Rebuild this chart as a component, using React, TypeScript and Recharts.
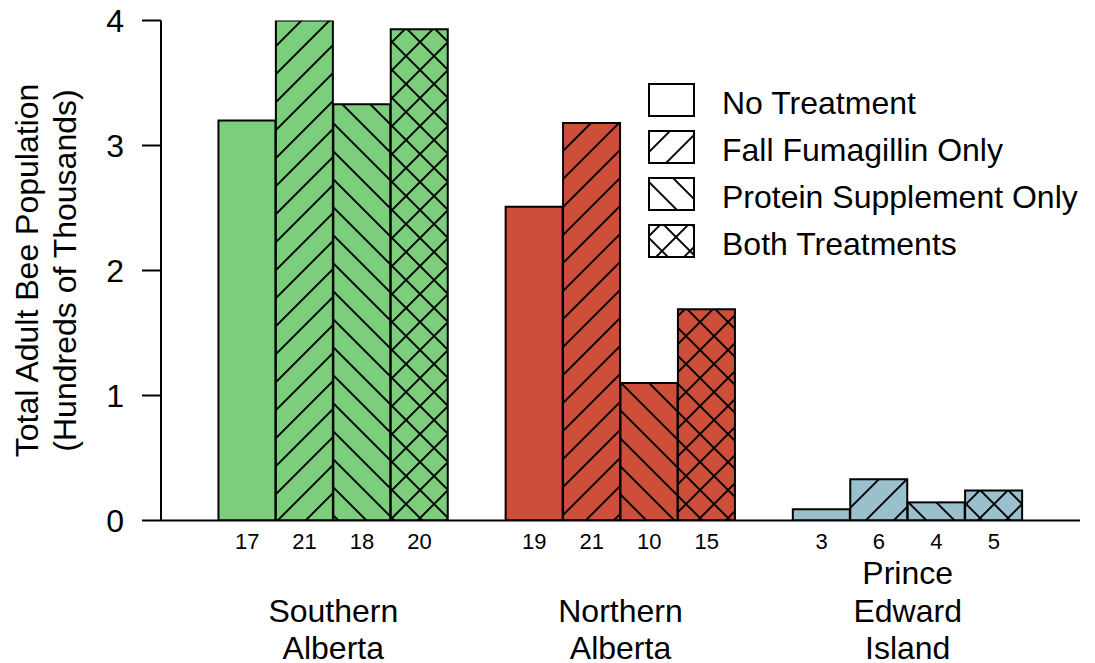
import React from 'react';
import { BarChart, Bar, XAxis, YAxis, Legend } from 'recharts';

const FONT = '"Liberation Sans", Arial, Helvetica, sans-serif';

const regions = ['Southern\nAlberta', 'Northern\nAlberta', 'Prince\nEdward\nIsland'];
const treatments = ['No Treatment', 'Fall Fumagillin Only', 'Protein Supplement Only', 'Both Treatments'];
const southernAlberta = [3.2, 4.0, 3.33, 3.93];
const northernAlberta = [2.51, 3.18, 1.1, 1.69];
const princeEdwardIsland = [0.09, 0.33, 0.145, 0.24];
const southernCounts = [17, 21, 18, 20];
const northernCounts = [19, 21, 10, 15];
const peiCounts = [3, 6, 4, 5];
const yTicks = [0, 1, 2, 3, 4];
const regionColors = ['#7CCD7C', '#CD4F39', '#9AC0CD'];
const hatchTypes = ['none', 'fwd', 'back', 'cross'];

const regionValues = [southernAlberta, northernAlberta, princeEdwardIsland];
const regionCounts = [southernCounts, northernCounts, peiCounts];

type Row = { slot: string; pos: number; value: number | null; count: number | null; region: number; treatment: number };
const data: Row[] = [];
{
  let pos = 0;
  data.push({ slot: 's' + pos, pos, value: null, count: null, region: -1, treatment: -1 });
  pos++;
  regions.forEach((_, ri) => {
    treatments.forEach((__, ti) => {
      data.push({ slot: 's' + pos, pos, value: regionValues[ri][ti], count: regionCounts[ri][ti], region: ri, treatment: ti });
      pos++;
    });
    data.push({ slot: 's' + pos, pos, value: null, count: null, region: -1, treatment: -1 });
    pos++;
  });
}
const regionCenters = regions.map((_, ri) => {
  const rows = data.filter((d) => d.region === ri);
  return rows.reduce((s, d) => s + d.pos, 0) / rows.length;
});
const posDomain: [number, number] = [-0.5, data.length - 0.5];

const S = 19.8; // hatch spacing (perpendicular)

const Patterns = () => (
  <defs>
    {hatchTypes.map((t) =>
      t === 'none' ? null : (
        <pattern
          key={t}
          id={'hatch-' + t}
          patternUnits="userSpaceOnUse"
          width={S}
          height={S}
          patternTransform={t === 'back' ? 'rotate(-45)' : 'rotate(45)'}
        >
          <line x1={S / 2} y1={-1} x2={S / 2} y2={S + 1} stroke="#000" strokeWidth={2} />
          {t === 'cross' && <line x1={-1} y1={S / 2} x2={S + 1} y2={S / 2} stroke="#000" strokeWidth={2} />}
        </pattern>
      )
    )}
  </defs>
);

const HatchRect = ({ x, y, width, height, color, type }: any) => (
  <g>
    <rect x={x} y={y} width={width} height={height} fill={color} />
    {type !== 'none' && <rect x={x} y={y} width={width} height={height} fill={'url(#hatch-' + type + ')'} />}
    <rect x={x} y={y} width={width} height={height} fill="none" stroke="#000" strokeWidth={2} />
  </g>
);

const BarShape = (props: any) => {
  const { x, y, width, height, payload } = props;
  if (!payload || payload.value == null || payload.region < 0) return <g />;
  return (
    <HatchRect
      x={x}
      y={y}
      width={width}
      height={height}
      color={regionColors[payload.region]}
      type={hatchTypes[payload.treatment]}
    />
  );
};

const CountTick = (props: any) => {
  const { x, y, payload } = props;
  const row = data.find((d) => d.slot === payload.value);
  if (!row || row.count == null) return <g />;
  return (
    <text x={x} y={y + 28.5} textAnchor="middle" fontSize={22} fontFamily={FONT} fill="#000">
      {row.count}
    </text>
  );
};

const RegionTick = (props: any) => {
  const { x, y, payload } = props;
  const idx = regionCenters.findIndex((c) => Math.abs(c - payload.value) < 1e-6);
  if (idx < 0) return <g />;
  const lines = regions[idx].split('\n');
  const n = lines.length;
  return (
    <g>
      {lines.map((ln, i) => (
        <text
          key={i}
          x={x}
          y={y + 98.5 - (n - 1 - i) * 37.5}
          textAnchor="middle"
          fontSize={32}
          fontFamily={FONT}
          fill="#000"
        >
          {ln}
        </text>
      ))}
    </g>
  );
};

const renderYLabel = (props: any) => {
  const vb = props.viewBox || { x: 0, y: 20.5, width: 161, height: 500 };
  const cy = vb.y + vb.height / 2;
  const x1 = vb.x + 38;
  const x2 = vb.x + 76;
  return (
    <g>
      <text x={x1} y={cy} transform={`rotate(-90 ${x1} ${cy})`} textAnchor="middle" fontSize={32} fontFamily={FONT} fill="#000">
        Total Adult Bee Population
      </text>
      <text x={x2} y={cy} transform={`rotate(-90 ${x2} ${cy})`} textAnchor="middle" fontSize={32} fontFamily={FONT} fill="#000">
        (Hundreds of Thousands)
      </text>
    </g>
  );
};

const LegendContent = () => (
  <svg width={440} height={180} style={{ overflow: 'visible', display: 'block' }}>
    {treatments.map((t, i) => (
      <g key={t}>
        <HatchRect x={1} y={1 + i * 47} width={45} height={32} color="#FFFFFF" type={hatchTypes[i]} />
        <text x={74} y={31 + i * 47} fontSize={32} fontFamily={FONT} fill="#000">
          {t}
        </text>
      </g>
    ))}
  </svg>
);

export default function App() {
  return (
    <div style={{ position: 'absolute', left: 0, top: 0, width: 1095, height: 663, background: '#fff' }}>
      <BarChart
        width={1095}
        height={663}
        data={data}
        margin={{ top: 20.5, right: 15, bottom: 0, left: 0 }}
        barCategoryGap={0}
        barGap={0}
      >
        <Patterns />
        <XAxis
          dataKey="slot"
          type="category"
          interval={0}
          height={40}
          tickLine={false}
          tickSize={0}
          tickMargin={0}
          axisLine={{ stroke: '#000', strokeWidth: 2 }}
          tick={CountTick}
        />
        <XAxis
          xAxisId="region"
          dataKey="pos"
          type="number"
          domain={posDomain}
          allowDataOverflow
          ticks={regionCenters}
          interval={0}
          height={102.5}
          tickLine={false}
          tickSize={0}
          tickMargin={0}
          axisLine={false}
          tick={RegionTick}
        />
        <YAxis
          type="number"
          domain={[0, 4]}
          ticks={yTicks}
          interval={0}
          allowDataOverflow
          width={161}
          tickSize={19}
          tickMargin={18}
          axisLine={{ stroke: '#000', strokeWidth: 2 }}
          tickLine={{ stroke: '#000', strokeWidth: 2 }}
          tick={{ fill: '#000', fontSize: 32, fontFamily: FONT }}
          label={{ content: renderYLabel }}
        />
        <Legend
          layout="vertical"
          align="center"
          verticalAlign="middle"
          wrapperStyle={{ left: 648, top: 83, width: 440, height: 180 }}
          content={() => <LegendContent />}
        />
        <Bar dataKey="value" isAnimationActive={false} shape={BarShape} />
      </BarChart>
    </div>
  );
}
